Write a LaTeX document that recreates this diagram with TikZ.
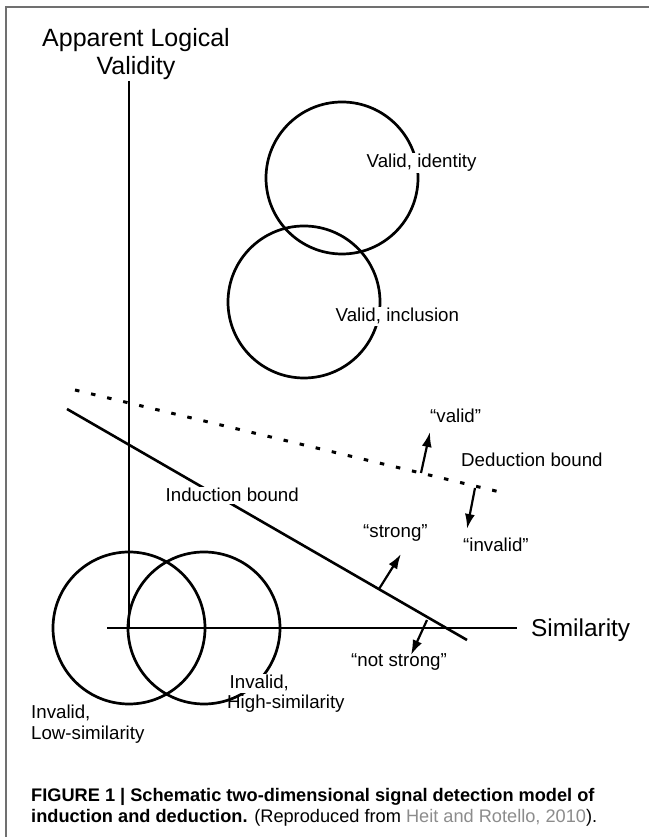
\documentclass[tikz,border=0pt]{standalone}
\usepackage{fontspec}
\setmainfont{Liberation Sans}
\usetikzlibrary{arrows.meta}
\definecolor{capgray}{HTML}{8C8C8C}
\definecolor{framegray}{HTML}{707070}
\begin{document}
\begin{tikzpicture}[x=1pt,y=1pt,
  axisline/.style={line width=2.6pt},
  ring/.style={draw, circle, line width=2.7pt, minimum size=152pt, inner sep=0pt, outer sep=0pt},
  biglbl/.style={font=\fontsize{25}{29}\selectfont, inner sep=0pt, anchor=base},
  lbl/.style={font=\fontsize{18.7}{21}\selectfont, inner sep=0pt, anchor=base west},
  wlbl/.style={lbl, fill=white, inner sep=1.5pt},
  arr/.style={line width=2.2pt, -{Latex[length=15pt,width=10pt]}},
  capt/.style={font=\fontsize{18.2}{21}\selectfont, inner sep=0pt, anchor=base west},
]
\useasboundingbox (0,0) rectangle (649,837);
% frame
\draw[framegray, line width=1.8pt] (6,0) -- (6,830) -- (649,830);

% axes
\coordinate (vtop) at (129,756);
\coordinate (orig) at (129,209);
\coordinate (hleft) at (107,209);
\coordinate (hright) at (517,209);
\draw[axisline] (vtop) -- (orig);
\draw[axisline] (hleft) -- (hright);

% circles
\node[ring] (identity) at (342,659) {};
\node[ring] (inclusion) at (304,535) {};
\node[ring] (lowsim) at (129,209) {};
\node[ring] (highsim) at (204,209) {};

% bounds
\coordinate (dedA) at (75,447);
\coordinate (dedB) at (504,344);
\draw[line width=3pt, dash pattern=on 4.5pt off 12pt] (dedA) -- (dedB);
\coordinate (indA) at (67,428);
\coordinate (indB) at (467,197);
\draw[line width=2.6pt] (indA) -- (indB);

% arrows
\coordinate (vt) at (421,364); \coordinate (vh) at (430,405);
\coordinate (it) at (475,349); \coordinate (ih) at (467,308);
\coordinate (st) at (379,248); \coordinate (sh) at (401,283);
\coordinate (nt) at (427,217); \coordinate (nh) at (411,182);
\draw[arr] (vt) -- (vh);
\draw[arr] (it) -- (ih);
\draw[arr] (st) -- (sh);
\draw[arr] (nt) -- (nh);

% labels
\node[biglbl] (yl1) at (136,790) {Apparent Logical};
\node[biglbl] (yl2) at (136,762) {Validity};
\node[lbl, font=\fontsize{24.4}{28}\selectfont] (xl) at (531,200) {Similarity};
\node[wlbl] (idl) at (365,669) {Valid, identity};
\node[wlbl] (incl) at (334,515) {Valid, inclusion};
\node[wlbl] (indl) at (164,335) {Induction bound};
\node[lbl] (dedl) at (461,370) {Deduction bound};
\node[lbl] (validl) at (430,414) {``valid''};
\node[lbl] (invalidl) at (463,285) {``invalid''};
\node[lbl] (strongl) at (363,299) {``strong''};
\node[lbl] (notstrongl) at (351,170) {``not strong''};
\node[lbl] (low1) at (31,118) {Invalid,};
\node[lbl] (low2) at (31,97) {Low-similarity};
\node[wlbl] (high1) at (228,148) {Invalid,};
\node[lbl] (high2) at (227,128) {High-similarity};

% caption
\node[capt] (cap1) at (31,35) {\textbf{FIGURE 1 | Schematic two-dimensional signal detection model of}};
\node[capt] (cap2) at (31,14) {\textbf{induction and deduction.} (Reproduced from \textcolor{capgray}{Heit and Rotello, 2010}).};
\end{tikzpicture}
\end{document}
